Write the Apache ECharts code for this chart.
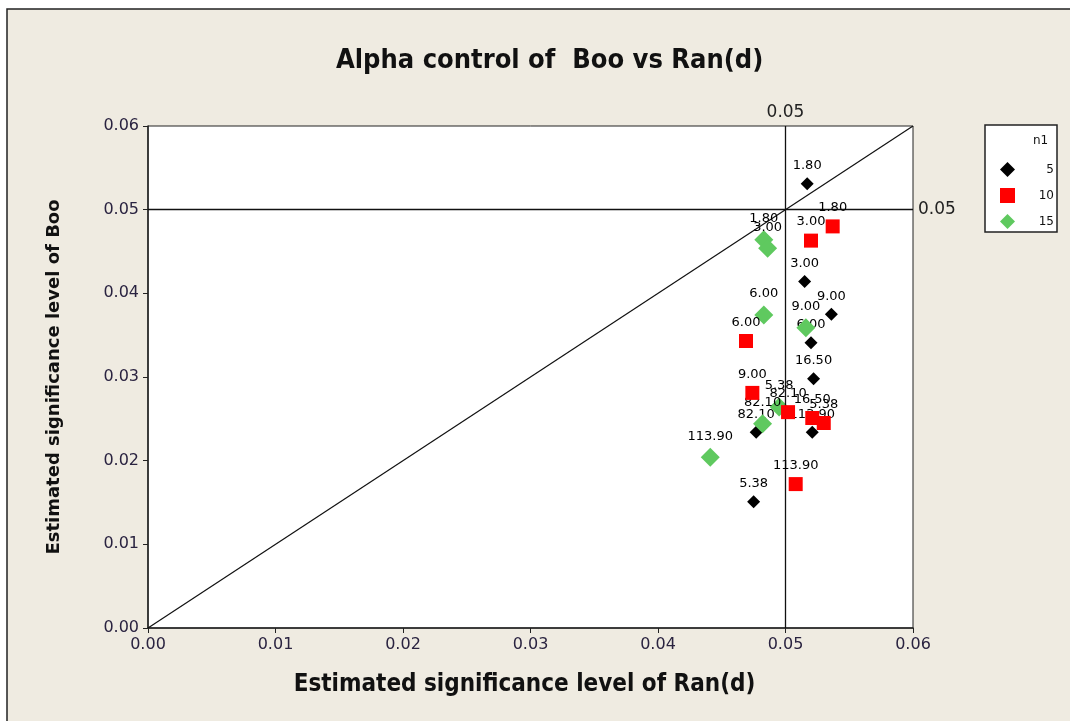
<!DOCTYPE html>
<html>
<head>
<meta charset="utf-8">
<title>Alpha control of Boo vs Ran(d)</title>
<script src="https://cdn.jsdelivr.net/npm/echarts@6/dist/echarts.min.js"></script>
<style>
  html, body { margin: 0; padding: 0; background: #ffffff; }
  #chart { width: 1070px; height: 721px; }
</style>
</head>
<body>
<div id="chart"></div>
<script>
// Estimated significance levels: x = Ran(d), y = Boo, one group per n1
const groupNames = ['5', '10', '15'];

const blackX = [0.0517, 0.0515, 0.0536, 0.0520, 0.0522, 0.0521, 0.0477, 0.0475];
const blackY = [0.0531, 0.0414, 0.0375, 0.0341, 0.0298, 0.0234, 0.0234, 0.0151];
const blackLabels = ['1.80', '3.00', '9.00', '6.00', '16.50', '113.90', '82.10', '5.38'];

const redX = [0.0537, 0.0520, 0.0469, 0.0474, 0.0502, 0.0521, 0.0530, 0.0508];
const redY = [0.0480, 0.0463, 0.0343, 0.0281, 0.0258, 0.0251, 0.0245, 0.0172];
const redLabels = ['1.80', '3.00', '6.00', '9.00', '82.10', '16.50', '5.38', '113.90'];

const greenX = [0.0483, 0.0486, 0.0483, 0.0516, 0.0495, 0.0482, 0.0441];
const greenY = [0.0464, 0.0454, 0.0374, 0.0359, 0.0264, 0.0244, 0.0204];
const greenLabels = ['1.80', '3.00', '6.00', '9.00', '5.38', '82.10', '113.90'];

const axisTicks = [0, 0.01, 0.02, 0.03, 0.04, 0.05, 0.06];
const refLevel = 0.05;

const chart = echarts.init(document.getElementById('chart'), null, { renderer: 'canvas' });

function points(xs, ys, labels) {
  return xs.map((x, i) => [x, ys[i], labels[i]]);
}

const pointLabel = {
  show: true,
  position: 'top',
  distance: 5,
  formatter: p => p.data[2],
  color: '#000',
  fontFamily: 'DejaVu Sans',
  fontSize: 13
};

const axisLabelStyle = {
  color: '#2a2340',
  fontFamily: 'DejaVu Sans',
  fontSize: 16,
  formatter: v => v.toFixed(2)
};

chart.setOption({
  backgroundColor: '#ffffff',
  animation: false,
  graphic: [
    { type: 'rect', z: -10, shape: { x: 7, y: 9, width: 1100, height: 760 },
      style: { fill: '#efebe1', stroke: '#222', lineWidth: 1.5 } },
    { type: 'rect', z: 5, shape: { x: 985, y: 125, width: 72, height: 107 },
      style: { fill: '#ffffff', stroke: '#222', lineWidth: 1.5 } },
    { type: 'text', z: 6, left: 1033, top: 135,
      style: { text: 'n1', fill: '#111', font: '12px DejaVu Sans' } }
  ],
  title: {
    text: 'Alpha control of  Boo vs Ran(d)',
    left: 331,
    top: 42,
    textStyle: { fontFamily: 'Liberation Sans Narrow, DejaVu Sans Condensed, sans-serif',
                 fontWeight: 'bold', fontSize: 27, color: '#111' }
  },
  legend: {
    orient: 'vertical',
    left: 995,
    top: 157,
    z: 7,
    itemGap: 11,
    itemWidth: 15,
    itemHeight: 15,
    data: groupNames,
    formatter: name => '{v|' + name + '}',
    textStyle: {
      fontFamily: 'DejaVu Sans', fontSize: 12, color: '#111',
      rich: { v: { width: 34, align: 'right', fontFamily: 'DejaVu Sans', fontSize: 12, color: '#111' } }
    }
  },
  grid: { left: 148, top: 126, right: 157, bottom: 93, show: true,
          backgroundColor: '#ffffff', borderColor: '#222', borderWidth: 1 },
  xAxis: {
    type: 'value', min: 0, max: 0.06, interval: 0.01,
    name: 'Estimated significance level of Ran(d)',
    nameLocation: 'middle', nameGap: 45,
    nameTextStyle: { fontFamily: 'Liberation Sans Narrow, DejaVu Sans Condensed, sans-serif',
                     fontWeight: 'bold', fontSize: 24, color: '#111', padding: [0, 0, 0, -12] },
    axisLine: { lineStyle: { color: '#222', width: 1.5 } },
    axisTick: { show: true, inside: false, length: 5, lineStyle: { color: '#222' } },
    axisLabel: Object.assign({ margin: 9 }, axisLabelStyle),
    splitLine: { show: false }
  },
  yAxis: {
    type: 'value', min: 0, max: 0.06, interval: 0.01,
    name: 'Estimated significance level of Boo',
    nameLocation: 'middle', nameGap: 85,
    nameTextStyle: { fontFamily: 'DejaVu Sans', fontWeight: 'bold', fontSize: 18, color: '#111' },
    axisLine: { lineStyle: { color: '#222', width: 1.5 } },
    axisTick: { show: true, inside: false, length: 5, lineStyle: { color: '#222' } },
    axisLabel: Object.assign({ margin: 9 }, axisLabelStyle),
    splitLine: { show: false }
  },
  series: [
    {
      // y = x reference diagonal and the 0.05 nominal level lines
      type: 'line',
      data: [[axisTicks[0], axisTicks[0]], [axisTicks[6], axisTicks[6]]],
      showSymbol: false,
      silent: true,
      lineStyle: { color: '#111', width: 1.2 },
      z: 1,
      markLine: {
        silent: true,
        symbol: ['none', 'none'],
        lineStyle: { color: '#111', width: 1.3, type: 'solid' },
        label: { show: true, position: 'end', formatter: refLevel.toFixed(2),
                 color: '#222', fontFamily: 'DejaVu Sans', fontSize: 17 },
        data: [{ xAxis: refLevel }, { yAxis: refLevel }]
      }
    },
    {
      name: groupNames[0], type: 'scatter', symbol: 'diamond', symbolSize: 13,
      itemStyle: { color: '#000000', opacity: 1 }, z: 3,
      label: pointLabel,
      data: points(blackX, blackY, blackLabels)
    },
    {
      name: groupNames[2], type: 'scatter', symbol: 'diamond', symbolSize: 19,
      itemStyle: { color: '#5fc95f', opacity: 1 }, z: 4,
      label: pointLabel,
      data: points(greenX, greenY, greenLabels)
    },
    {
      name: groupNames[1], type: 'scatter', symbol: 'rect', symbolSize: 14,
      itemStyle: { color: '#ff0000', opacity: 1 }, z: 5,
      label: pointLabel,
      data: points(redX, redY, redLabels)
    }
  ]
});
</script>
</body>
</html>
